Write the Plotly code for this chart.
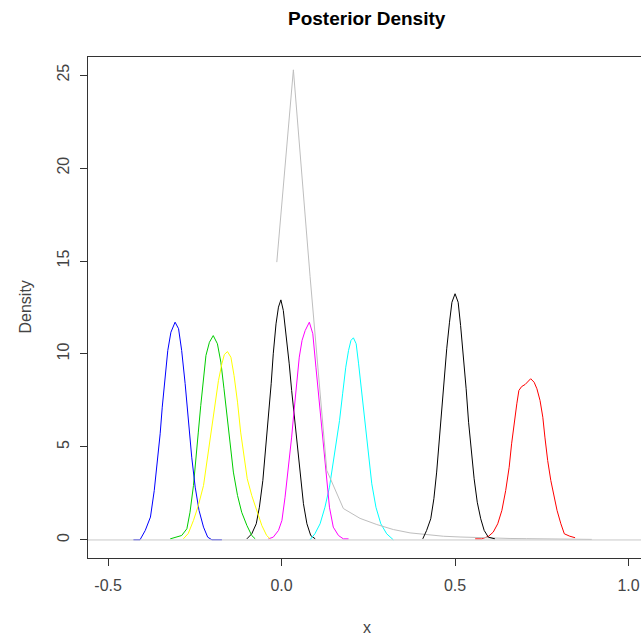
import plotly.graph_objects as go

# ---- data (x, density) ----
blue_x = [-0.427, -0.408, -0.393, -0.378, -0.367, -0.357, -0.350, -0.344, -0.336, -0.328, -0.319, -0.307,
          -0.297, -0.288, -0.278, -0.269, -0.259, -0.249, -0.238, -0.225, -0.213, -0.201, -0.172]
blue_y = [0.01, 0.01, 0.51, 1.23, 2.66, 4.27, 5.71, 7.14, 8.75, 10.19, 11.17, 11.71,
          11.36, 10.19, 8.41, 6.42, 4.45, 2.84, 1.59, 0.69, 0.15, 0.01, 0.01]

green_x = [-0.321, -0.307, -0.288, -0.273, -0.264, -0.254, -0.246, -0.240, -0.233, -0.225, -0.218, -0.208,
           -0.197, -0.185, -0.175, -0.166, -0.158, -0.148, -0.139, -0.127, -0.115, -0.100, -0.086, -0.076]
green_y = [0.06, 0.15, 0.24, 0.60, 1.49, 2.93, 4.37, 5.80, 7.23, 8.67, 9.92, 10.63,
           10.99, 10.55, 9.56, 8.13, 6.69, 5.08, 3.65, 2.39, 1.49, 0.78, 0.24, 0.06]

yellow_x = [-0.283, -0.269, -0.254, -0.240, -0.225, -0.211, -0.197, -0.182, -0.172, -0.165, -0.156,
            -0.146, -0.137, -0.127, -0.118, -0.108, -0.099, -0.086, -0.071, -0.057, -0.043, -0.033]
yellow_y = [0.06, 0.35, 1.05, 1.85, 2.93, 4.81, 6.69, 8.57, 9.48, 9.97, 10.13,
            9.82, 8.84, 7.41, 5.80, 4.37, 3.29, 2.39, 1.49, 0.78, 0.24, 0.06]

black1_x = [-0.100, -0.086, -0.073, -0.064, -0.054, -0.045, -0.038, -0.030, -0.024, -0.016, -0.009, -0.002,
            0.005, 0.013, 0.022, 0.029, 0.037, 0.046, 0.053, 0.063, 0.073, 0.084, 0.097]
black1_y = [0.06, 0.33, 0.87, 1.76, 3.20, 4.99, 6.60, 8.40, 10.01, 11.62, 12.52, 12.91,
            12.34, 11.09, 9.47, 8.04, 6.60, 4.99, 3.38, 1.95, 0.87, 0.24, 0.06]

magenta_x = [-0.038, -0.024, -0.009, 0.001, 0.010, 0.020, 0.029, 0.036, 0.044, 0.051, 0.059, 0.068,
             0.080, 0.090, 0.099, 0.109, 0.119, 0.128, 0.138, 0.149, 0.164, 0.178, 0.193]
magenta_y = [0.06, 0.15, 0.51, 1.05, 2.30, 3.91, 5.53, 6.96, 8.58, 9.83, 10.73, 11.26,
             11.71, 11.09, 9.29, 7.32, 5.35, 3.38, 1.76, 0.69, 0.24, 0.06, 0.06]

cyan_x = [0.082, 0.096, 0.111, 0.125, 0.138, 0.148, 0.157, 0.167, 0.176, 0.185, 0.193, 0.200,
          0.207, 0.215, 0.222, 0.231, 0.241, 0.250, 0.260, 0.272, 0.286, 0.303, 0.322]
cyan_y = [0.01, 0.33, 0.87, 1.76, 2.84, 4.10, 5.35, 6.42, 7.86, 9.29, 10.19, 10.73,
          10.87, 10.55, 9.47, 7.86, 6.06, 4.45, 3.02, 1.76, 0.87, 0.33, 0.01]

black2_x = [0.407, 0.418, 0.430, 0.439, 0.447, 0.455, 0.462, 0.468, 0.476, 0.484, 0.491, 0.500,
            0.509, 0.516, 0.524, 0.532, 0.539, 0.547, 0.555, 0.564, 0.574, 0.584, 0.596, 0.615]
black2_y = [0.06, 0.51, 1.14, 2.22, 3.65, 5.44, 7.05, 8.67, 10.28, 11.71, 12.78, 13.24,
            12.78, 11.53, 9.92, 8.13, 6.33, 4.72, 3.29, 2.03, 1.14, 0.51, 0.15, 0.06]

red_x = [0.558, 0.577, 0.596, 0.610, 0.623, 0.635, 0.646, 0.656, 0.663, 0.671, 0.678, 0.684, 0.692,
         0.702, 0.710, 0.718, 0.728, 0.736, 0.745, 0.753, 0.759, 0.767, 0.776, 0.785, 0.794, 0.805,
         0.815, 0.831, 0.846]
red_y = [0.06, 0.06, 0.19, 0.42, 0.87, 1.59, 2.66, 3.91, 5.17, 6.42, 7.32, 8.04, 8.25,
         8.36, 8.54, 8.67, 8.48, 8.13, 7.50, 6.60, 5.53, 4.27, 3.20, 2.30, 1.59, 0.87,
         0.33, 0.20, 0.12]

gray_x = [-0.0138, 0.0340, 0.0821, 0.1303, 0.1781, 0.2262, 0.2744, 0.3222, 0.3703, 0.4184, 0.4663,
          0.5144, 0.5625, 0.6104, 0.6585, 0.7066, 0.7545, 0.8026, 0.8507, 0.894]
gray_y = [14.94, 25.28, 14.17, 3.74, 1.69, 1.16, 0.83, 0.56, 0.38, 0.27, 0.20,
          0.16, 0.12, 0.10, 0.08, 0.07, 0.06, 0.05, 0.04, 0.03]

x_ticks = [-0.5, 0.0, 0.5, 1.0]
x_tick_text = ["-0.5", "0.0", "0.5", "1.0"]
y_ticks = [0, 5, 10, 15, 20, 25]

series = [
    (black1_x, black1_y, "#000000"),
    (red_x, red_y, "#ff0000"),
    (green_x, green_y, "#00cd00"),
    (blue_x, blue_y, "#0000ff"),
    (cyan_x, cyan_y, "#00ffff"),
    (magenta_x, magenta_y, "#ff00ff"),
    (yellow_x, yellow_y, "#ffff00"),
    (gray_x, gray_y, "#bebebe"),
    (black2_x, black2_y, "#000000"),
]

fig = go.Figure()
for xs, ys, col in series:
    fig.add_trace(go.Scatter(x=xs, y=ys, mode="lines",
                             line=dict(color=col, width=1), showlegend=False,
                             hoverinfo="skip"))

fig.add_shape(type="line", xref="paper", yref="y", x0=0, x1=1, y0=0, y1=0,
              line=dict(color="#c8c8c8", width=1), layer="above")

font_family = "Liberation Sans, Arial, sans-serif"
txt_col = "#444444"
fig.update_layout(
    width=641, height=641,
    margin=dict(l=88, r=0, t=57, b=83),
    paper_bgcolor="white", plot_bgcolor="white",
    font=dict(family=font_family, size=16, color=txt_col),
    showlegend=False,
)
fig.update_xaxes(range=[-0.558, 1.036], tickvals=x_ticks, ticktext=x_tick_text,
                 showgrid=False, zeroline=False, showline=True, linecolor="#333333",
                 linewidth=1, mirror=True, ticks="outside", ticklen=7, tickcolor="#333333",
                 ticklabelstandoff=6, tickfont=dict(size=16, color=txt_col))
fig.update_yaxes(range=[-0.97, 25.97], tickvals=y_ticks, tickangle=-90,
                 showgrid=False, zeroline=False, showline=True, linecolor="#333333",
                 linewidth=1, mirror=False, ticks="outside", ticklen=7, tickcolor="#333333",
                 ticklabelstandoff=5, tickfont=dict(size=16, color=txt_col))

fig.add_annotation(text="<b>Posterior Density</b>", xref="paper", yref="paper",
                   x=0.5045, y=1.0778, showarrow=False, xanchor="center", yanchor="middle",
                   font=dict(size=19, color="#000000", family=font_family))
fig.add_annotation(text="x", xref="paper", yref="paper", x=0.5045, y=-0.1397,
                   showarrow=False, xanchor="center", yanchor="middle",
                   font=dict(size=16, color=txt_col))
fig.add_annotation(text="Density", xref="paper", yref="paper", x=-0.1139, y=0.5,
                   textangle=-90, showarrow=False, xanchor="center", yanchor="middle",
                   font=dict(size=16, color=txt_col))

fig.write_html("out.html",
               config={"displayModeBar": False},
               post_script="document.body.style.margin='0px';document.body.style.overflow='hidden';")
